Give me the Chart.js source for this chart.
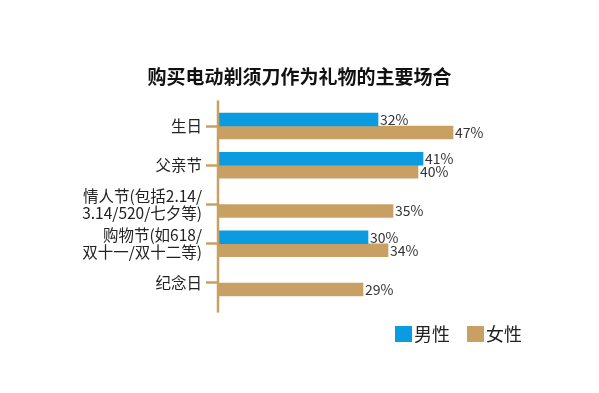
<!DOCTYPE html>
<html>
<head>
<meta charset="utf-8">
<script src="https://cdn.jsdelivr.net/npm/chart.js@4.4.1/dist/chart.umd.min.js"></script>
<style>
html, body { margin: 0; padding: 0; background: #fff; }
canvas { display: block; }
</style>
</head>
<body>
<canvas id="chart" width="599" height="393"></canvas>
<script>
// data
const categories = ['生日', '父亲节', ['情人节(包括2.14/', '3.14/520/七夕等)'], ['购物节(如618/', '双十一/双十二等)'], '纪念日'];
const male = [32, 41, null, 30, null];
const female = [47, 40, 35, 34, 29];
const seriesNames = ['男性', '女性'];

const FONT = '"Noto Sans CJK SC", "Noto Sans", sans-serif';
const BLUE = '#0a9be0';
const TAN = '#c9a063';

// axis line sticks out a bit above and below the bars
const axisLine = {
    id: 'axisLine',
    afterDatasetsDraw(chart) {
        const { ctx, chartArea } = chart;
        ctx.save();
        ctx.strokeStyle = TAN;
        ctx.lineWidth = 2.5;
        ctx.beginPath();
        ctx.moveTo(chartArea.left, chartArea.top - 6);
        ctx.lineTo(chartArea.left, chartArea.bottom + 10);
        ctx.stroke();
        ctx.restore();
    }
};

// "32%" etc at the end of each bar
const valueLabels = {
    id: 'valueLabels',
    afterDatasetsDraw(chart) {
        const ctx = chart.ctx;
        ctx.save();
        ctx.font = '14px ' + FONT;
        ctx.fillStyle = '#333';
        ctx.textAlign = 'left';
        ctx.textBaseline = 'middle';
        chart.data.datasets.forEach((ds, i) => {
            chart.getDatasetMeta(i).data.forEach((bar, j) => {
                const v = ds.data[j];
                if (v == null) return;
                ctx.fillText(v + '%', bar.x + 2, bar.y);
            });
        });
        ctx.restore();
    }
};

// legend bottom right, square boxes tight to the text
const boxLegend = {
    id: 'boxLegend',
    afterDraw(chart) {
        const ctx = chart.ctx;
        let x = 395;
        const y = 326;
        ctx.save();
        ctx.font = '18px ' + FONT;
        ctx.textBaseline = 'middle';
        ctx.textAlign = 'left';
        chart.data.datasets.forEach(ds => {
            ctx.fillStyle = ds.backgroundColor;
            ctx.fillRect(x, y, 17, 16);
            ctx.fillStyle = '#222';
            ctx.fillText(ds.label, x + 19, y + 8);
            x += 72;
        });
        ctx.restore();
    }
};

new Chart(document.getElementById('chart'), {
    type: 'bar',
    data: {
        labels: categories,
        datasets: [
            { label: seriesNames[0], data: male, backgroundColor: BLUE, barThickness: 13 },
            { label: seriesNames[1], data: female, backgroundColor: TAN, barThickness: 13 }
        ]
    },
    options: {
        indexAxis: 'y',
        responsive: false,
        animation: false,
        layout: { padding: { top: 0, right: 0, bottom: 90.4, left: 0 } },
        plugins: {
            legend: { display: false },
            tooltip: { enabled: false },
            title: {
                display: true,
                text: '购买电动剃须刀作为礼物的主要场合',
                color: '#111',
                font: { family: FONT, size: 19, weight: 'bold', lineHeight: 1.2 },
                padding: { top: 65, bottom: 18.6 }
            }
        },
        scales: {
            // chart runs to the right edge so the title stays centred on the page
            x: { display: false, min: 0, max: 76.2 },
            y: {
                afterFit: (scale) => { scale.width = 218; },
                border: { display: false },
                grid: {
                    offset: false,
                    drawOnChartArea: false,
                    drawTicks: true,
                    tickLength: 12,
                    tickWidth: 2.5,
                    color: TAN
                },
                ticks: {
                    color: '#222',
                    padding: 4,
                    font: { family: FONT, size: 15.5, lineHeight: 1.1 }
                }
            }
        }
    },
    plugins: [axisLine, valueLabels, boxLegend]
});
</script>
</body>
</html>
